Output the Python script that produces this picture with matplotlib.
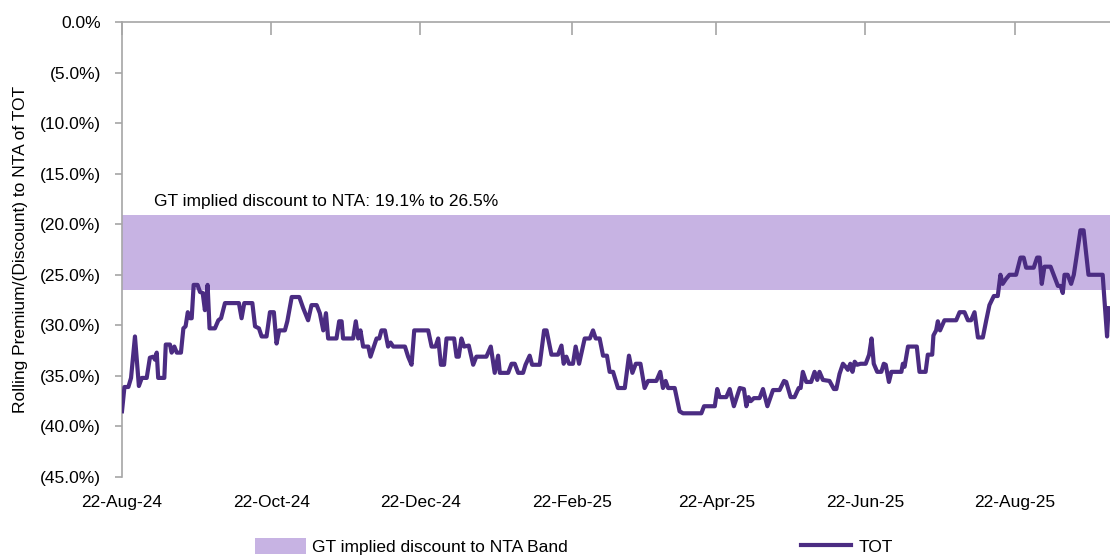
import matplotlib
matplotlib.use('Agg')
import matplotlib.pyplot as plt
import matplotlib.dates as mdates
from matplotlib.patches import Patch
from matplotlib.lines import Line2D
import numpy as np
import pandas as pd

plt.rcParams['font.family'] = ['Liberation Sans', 'DejaVu Sans']

start_date = '2024-08-22'

# days after 22-Aug-24
tot_days = [0, 1, 2.6, 3.7, 5.3, 6.9, 8.1, 10.1, 11.4, 12.8, 13.5, 14.2, 14.8, 17.3, 17.9, 19.6,
            20.3, 21.4, 22.4, 24.1, 25.1, 26.0, 26.9, 27.8, 28.5, 29.3, 30.9, 31.9, 33.0, 33.9,
            35.0, 35.8, 38.0, 39.4, 40.5, 42.1, 47.8, 48.9, 50.0, 53.3, 54.4, 56.0, 57.1, 59.1,
            60.5, 62.1, 63.2, 64.3, 66.6, 67.6, 69.4, 72.5, 74.1, 76.1, 77.5, 79.6, 80.9, 82.3,
            83.4, 84.3, 87.7, 88.8, 89.8, 90.4, 94.5, 95.6, 96.6, 97.5, 98.6, 100.7, 101.6, 104.1,
            105.2, 106.1, 107.5, 108.8, 109.8, 110.9, 115.7, 117.0, 118.4, 119.5, 125.2, 126.6,
            128.2, 129.3, 130.4, 131.7, 132.7, 135.8, 136.8, 137.7, 138.8, 139.9, 141.8, 143.6,
            144.9, 149.0, 150.8, 152.4, 153.8, 154.5, 157.9, 159.3, 160.6, 162.0, 164.0, 165.0,
            166.7, 167.7, 170.8, 172.6, 173.6, 175.6, 178.3, 179.7, 180.6, 181.7, 182.8, 184.4,
            185.5, 186.9, 189.2, 191.3, 192.6, 193.7, 195.3, 196.7, 198.3, 199.4, 200.8, 202.8,
            205.6, 207.3, 208.7, 210.1, 212.0, 213.7, 215.1, 218.5, 220.1, 221.2, 222.3, 223.3,
            226.0, 228.0, 229.4, 236.9, 238.0, 242.4, 243.4, 244.4, 247.1, 248.5, 250.2, 252.6,
            254.3, 255.3, 256.2, 257.1, 258.4, 260.7, 262.1, 263.9, 266.2, 268.9, 270.7, 271.6,
            273.4, 275.0, 276.7, 277.5, 278.4, 279.8, 281.8, 283.2, 284.3, 285.2, 286.6, 289.3,
            291.1, 292.1, 293.4, 294.8, 295.9, 296.8, 297.8, 298.7, 299.6, 300.6, 302.0, 304.1,
            305.5, 306.5, 307.4, 308.8, 310.5, 311.5, 312.3, 313.6, 314.6, 318.7, 319.3, 320.0,
            321.4, 325.0, 326.1, 328.6, 329.5, 331.3, 331.8, 332.9, 333.6, 334.5, 336.3, 341.1,
            342.5, 344.5, 345.9, 347.2, 348.6, 350.0, 352.0, 353.4, 354.7, 356.5, 358.1, 359.2,
            360.1, 361.5, 362.9, 365.6, 367.4, 368.7, 369.7, 372.8, 374.2, 375.2, 376.1, 377.2,
            379.7, 381.3, 382.7, 383.8, 384.7, 385.4, 386.7, 388.1, 389.2, 390.2, 391.9, 393.2,
            395.2, 401.0, 402.8, 403.4]
tot_values = [-38.5, -36.1, -36.1, -35.2, -31.1, -36.0, -35.2, -35.2, -33.2, -33.1, -33.4, -32.7,
              -35.2, -35.2, -31.9, -31.9, -32.7, -32.1, -32.7, -32.7, -30.3, -30.1, -28.7, -29.3,
              -29.3, -26.0, -26.0, -26.7, -26.8, -28.5, -26.0, -30.3, -30.3, -29.5, -29.3, -27.8,
              -27.8, -29.3, -27.8, -27.8, -30.1, -30.3, -31.1, -31.1, -28.7, -28.7, -31.8, -30.5,
              -30.5, -29.6, -27.2, -27.2, -28.3, -29.5, -28.0, -28.0, -28.8, -30.5, -28.8, -31.3,
              -31.3, -29.6, -29.6, -31.3, -31.3, -29.6, -31.3, -30.5, -32.1, -32.1, -33.1, -31.3,
              -31.3, -30.5, -30.5, -32.1, -31.7, -32.1, -32.1, -33.1, -33.9, -30.5, -30.5, -32.1,
              -32.1, -31.3, -33.9, -33.9, -31.3, -31.3, -33.1, -33.1, -31.3, -32.1, -32.0, -33.9,
              -33.1, -33.1, -32.1, -34.7, -33.0, -34.7, -34.7, -33.8, -33.8, -34.7, -34.7, -33.9,
              -33.0, -33.9, -33.9, -30.5, -30.5, -32.9, -32.9, -32.0, -33.8, -33.1, -33.8, -33.8,
              -32.1, -33.8, -31.3, -31.3, -30.5, -31.3, -31.3, -33.0, -33.0, -34.6, -34.6, -36.2,
              -36.2, -33.0, -34.7, -33.8, -33.8, -36.2, -35.5, -35.5, -34.6, -36.2, -35.5, -36.2,
              -36.2, -38.5, -38.7, -38.7, -38.0, -38.0, -36.3, -37.1, -37.1, -36.3, -38.0, -36.2,
              -36.3, -38.0, -37.1, -37.5, -37.2, -37.2, -36.3, -38.0, -36.4, -36.4, -35.5, -35.6,
              -37.1, -37.1, -36.2, -36.2, -34.6, -35.6, -35.6, -34.6, -35.4, -34.6, -35.4, -35.5,
              -36.3, -36.3, -34.8, -33.8, -34.1, -34.4, -33.8, -34.6, -33.6, -33.9, -33.8, -33.8,
              -32.9, -31.3, -33.8, -34.6, -34.6, -33.8, -33.9, -35.6, -34.6, -34.6, -33.8, -34.1,
              -32.1, -32.1, -34.6, -34.6, -32.9, -32.9, -31.0, -30.5, -29.6, -30.5, -29.5, -29.5,
              -28.7, -28.7, -29.5, -29.5, -28.7, -31.2, -31.2, -29.5, -28.0, -27.1, -27.1, -25.0,
              -25.9, -25.4, -25.0, -25.0, -23.3, -23.3, -24.3, -24.3, -23.3, -23.3, -25.9, -24.2,
              -24.2, -25.2, -26.1, -26.1, -26.8, -25.0, -25.0, -25.9, -25.0, -23.4, -20.6, -20.6,
              -25.0, -25.0, -31.1, -28.3]

band_low = -26.5
band_high = -19.1
band_label = 'GT implied discount to NTA Band'
note_text = 'GT implied discount to NTA: 19.1% to 26.5%'
tick_dates = ['2024-08-22', '2024-10-22', '2024-12-22', '2025-02-22',
              '2025-04-22', '2025-06-22', '2025-08-22']
y_ticks = [0, -5, -10, -15, -20, -25, -30, -35, -40, -45]

band_color = '#C7B3E3'
line_color = '#4B2C82'
axis_color = '#A6A6A6'
fsize = 12.5

x0 = mdates.date2num(pd.Timestamp(start_date))
x = x0 + np.array(tot_days)

fig = plt.figure(figsize=(11.1, 5.58), dpi=100)
ax = fig.add_axes([122 / 1110, 1 - 477 / 558, (1110 - 122) / 1110, 455 / 558])

ax.axhspan(band_low, band_high, color=band_color, lw=0, zorder=1)
ax.plot(x, tot_values, color=line_color, lw=3.0, zorder=3, solid_joinstyle='round')

ax.set_xlim(x0, x0 + 404)
ax.set_ylim(-45, 0)

ax.set_yticks(y_ticks)
ax.set_yticklabels(['0.0%' if v == 0 else '(%.1f%%)' % abs(v) for v in y_ticks])
ax.set_xticks([mdates.date2num(pd.Timestamp(d)) for d in tick_dates])
ax.xaxis.set_major_formatter(mdates.DateFormatter('%d-%b-%y'))

for s in ['right', 'bottom']:
    ax.spines[s].set_visible(False)
for s in ['left', 'top']:
    ax.spines[s].set_color(axis_color)
    ax.spines[s].set_linewidth(1.2)

ax.tick_params(axis='y', direction='out', length=5, width=1.2, color=axis_color,
               labelsize=fsize, pad=10)
ax.tick_params(axis='x', which='major', top=True, bottom=False, direction='in',
               length=9, width=1.2, color=axis_color, labelsize=fsize, pad=13)

ax.set_ylabel('Rolling Premium/(Discount) to NTA of TOT', fontsize=fsize, labelpad=9)

ax.text(x0 + 13, -17.8, note_text, fontsize=fsize, va='center', ha='left')

handles = [Patch(facecolor=band_color, edgecolor='none'),
           Line2D([0], [0], color=line_color, lw=3.0)]
fig.legend(handles, [band_label, 'TOT'], loc='center', bbox_to_anchor=(0.517, 0.02),
           ncol=2, frameon=False, fontsize=fsize, handlelength=2.9, handleheight=1.0,
           columnspacing=13.4, handletextpad=0.4, borderpad=0.1)

fig.savefig('out.png', dpi=100)
